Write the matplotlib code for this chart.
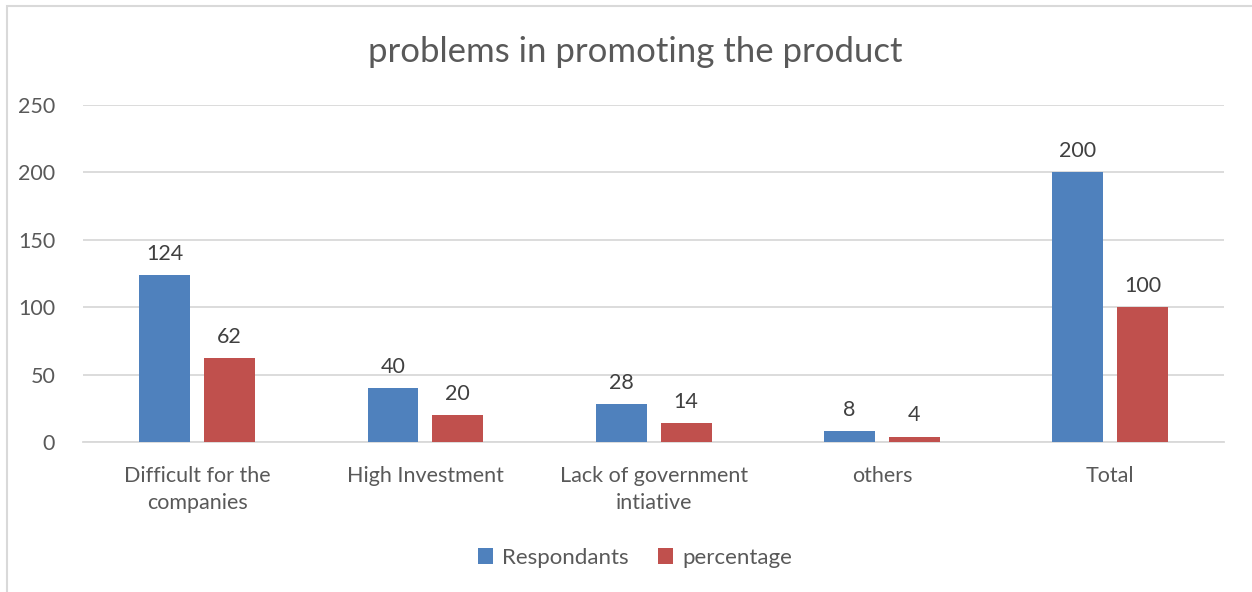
import numpy as np
import matplotlib
matplotlib.use("Agg")
import matplotlib.pyplot as plt
from matplotlib.patches import Rectangle

# Datos
categorias = ["Difficult for the\ncompanies", "High Investment",
              "Lack of government\nintiative", "others", "Total"]
respondants = [124, 40, 28, 8, 200]
percentage = [62, 20, 14, 4, 100]

plt.rcParams['font.family'] = ['Lato', 'DejaVu Sans']

fig = plt.figure(figsize=(12.52, 5.92), dpi=100)
ax = fig.add_axes([0.0663, 0.2534, 0.9117, 0.5692])

x = np.arange(len(categorias))
ancho = 0.223
desp = 0.142
azul = '#4f81bd'
rojo = '#c0504d'

b1 = ax.bar(x - desp, respondants, ancho, color=azul, label='Respondants', zorder=3)
b2 = ax.bar(x + desp, percentage, ancho, color=rojo, label='percentage', zorder=3)

for barras in (b1, b2):
    ax.bar_label(barras, padding=8, fontsize=15.5, color='#404040')

ax.set_xlim(-0.5, len(categorias) - 0.5)
ax.set_ylim(0, 250)
ax.set_yticks(range(0, 251, 50))
ax.yaxis.grid(True, color='#d9d9d9', linewidth=1.3, zorder=0)
ax.set_xticks(x)
ax.set_xticklabels(categorias, fontsize=15.5, color='#595959', linespacing=1.45)
ax.tick_params(axis='y', labelsize=15.5, labelcolor='#595959', length=0, pad=20)
ax.tick_params(axis='x', length=0, pad=17)
for s in ['top', 'right', 'left']:
    ax.spines[s].set_visible(False)
ax.spines['bottom'].set_color('#d9d9d9')
ax.spines['bottom'].set_linewidth(1.3)

fig.suptitle('problems in promoting the product', x=0.507, y=0.94,
             fontsize=25, color='#595959')

fig.legend(loc='center', bbox_to_anchor=(0.507, 0.058), ncol=2, frameon=False,
           fontsize=16, labelcolor='#595959', handlelength=0.7, handleheight=0.7,
           columnspacing=1.3, handletextpad=0.4)

# marco del gráfico
fig.patches.append(Rectangle((0.0056, -0.01), 1.0, 1.0,
                             transform=fig.transFigure, fill=False,
                             edgecolor='#d9d9d9', linewidth=1.5))

fig.savefig('out.png', dpi=100)
